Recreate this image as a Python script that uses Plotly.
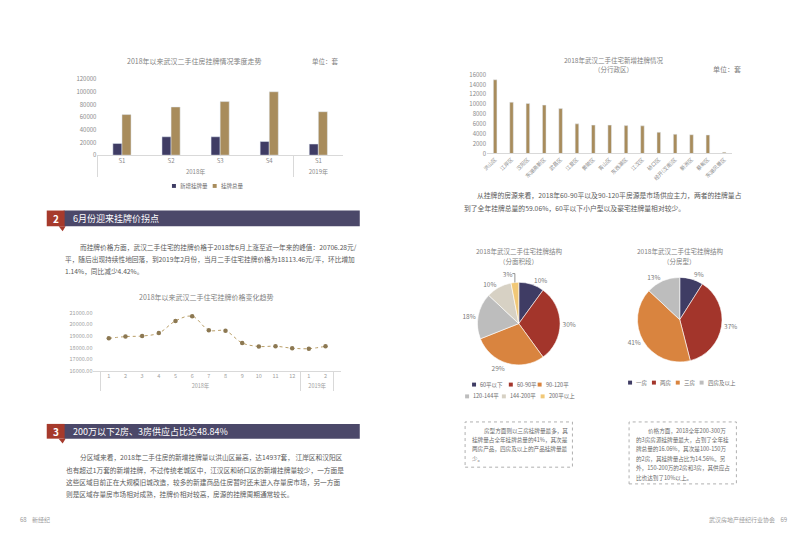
import plotly.graph_objects as go

W, H = 800, 541
def fx(x): return x / W
def fy(y): return 1 - y / H

FONT = "Noto Sans CJK SC"
NAVY = "#3f3c64"
GOLD = "#a88c5c"
TXT = "#5a5a5a"
AX = "#8a8a8a"

# ---------------- data ----------------
quarter_year = ["2018年", "2018年", "2018年", "2018年", "2019年"]
quarter_label = ["S1", "S2", "S3", "S4", "S1"]
new_listings = [18500, 29000, 29000, 21500, 17500]
total_listings = [64000, 76000, 84500, 100000, 68500]

price_year = ["2018年"] * 12 + ["2019年"] * 2
price_month = ["1", "2", "3", "4", "5", "6", "7", "8", "9", "10", "11", "12", "1", "2"]
price_values = [18800, 18950, 19000, 19250, 20300, 20706.28, 19500, 19450,
                18400, 18100, 18120, 17950, 17909, 18113.46]

districts = ["洪山区", "江岸区", "汉阳区", "东湖高新区", "武昌区", "江夏区", "黄陂区",
             "青山区", "东西湖区", "江汉区", "硚口区", "经开(汉南)区", "新洲区", "蔡甸区", "东湖风景区"]
district_new = [14937, 10400, 10150, 9800, 9100, 6000, 5750, 5750, 5650, 5600,
                4300, 3900, 3800, 3750, 250]

area_labels = ["60平以下", "60-90平", "90-120平", "120-144平", "144-200平", "200平以上"]
area_share = [10, 30, 29, 18, 10, 3]
area_colors = ["#3f3c64", "#a3352b", "#d9843f", "#bdbdbd", "#d7d1c4", "#f1c877"]

room_labels = ["一房", "两房", "三房", "四房及以上"]
room_share = [9, 37, 41, 13]
room_colors = ["#3f3c64", "#a3352b", "#d9843f", "#bdbdbd"]

fig = go.Figure()

# ---------------- bar chart 1 ----------------
fig.add_trace(go.Bar(x=[quarter_year, quarter_label], y=new_listings, name="新增挂牌量",
                     marker_color=NAVY, xaxis="x", yaxis="y", showlegend=False))
fig.add_trace(go.Bar(x=[quarter_year, quarter_label], y=total_listings, name="挂牌总量",
                     marker_color=GOLD, xaxis="x", yaxis="y", showlegend=False))

# ---------------- line chart ----------------
fig.add_trace(go.Scatter(x=[price_year, price_month], y=price_values, mode="lines+markers",
                         line=dict(color="#b89d66", width=1, dash="dot", shape="spline"),
                         marker=dict(color="#8c7852", size=4.5),
                         xaxis="x2", yaxis="y2", showlegend=False))

# ---------------- bar chart 2 ----------------
fig.add_trace(go.Bar(x=districts, y=district_new, marker_color=GOLD, width=0.22,
                     xaxis="x3", yaxis="y3", showlegend=False))

# ---------------- pies ----------------
fig.add_trace(go.Pie(labels=area_labels, values=area_share, sort=False, direction="clockwise",
                     marker=dict(colors=area_colors, line=dict(color="white", width=0.6)),
                     texttemplate="%{value}%", textposition="outside",
                     textfont=dict(size=6.5, color="#7a7a7a", family=FONT),
                     domain=dict(x=[fx(475), fx(559)], y=[fy(366), fy(282)]),
                     showlegend=False, hoverinfo="label+percent"))
fig.add_trace(go.Pie(labels=room_labels, values=room_share, sort=False, direction="clockwise",
                     marker=dict(colors=room_colors, line=dict(color="white", width=0.6)),
                     texttemplate="%{value}%", textposition="outside",
                     textfont=dict(size=6.5, color="#7a7a7a", family=FONT),
                     domain=dict(x=[fx(636), fx(722)], y=[fy(363), fy(277)]),
                     showlegend=False, hoverinfo="label+percent"))

tickfont = dict(size=6, color=AX, family=FONT)
shapes = []
ann = []

def text(x, y, s, size=7, color=TXT, anchor="left", bold=False):
    ann.append(dict(x=fx(x), y=fy(y), xref="paper", yref="paper", text=("<b>%s</b>" % s) if bold else s,
                    showarrow=False, xanchor=anchor, yanchor="middle",
                    font=dict(size=size, color=color, family=FONT)))

# chart titles
text(191, 57, "2018年以来武汉二手住房挂牌情况季度走势", 7, "#7f7f7f", "center")
text(307, 57, "单位：套", 6.5, "#7f7f7f")
text(203, 297, "2018年以来武汉二手住宅挂牌价格变化趋势", 7, "#7f7f7f", "center")
text(612, 55.5, "2018年武汉二手住宅新增挂牌情况", 6.5, "#7f7f7f", "center")
text(612, 65.5, "（分行政区）", 6.5, "#7f7f7f", "center")
text(710, 65.5, "单位：套", 7, "#7f7f7f")
text(517, 250.5, "2018年武汉二手住宅挂牌结构", 6.5, "#7f7f7f", "center")
text(517, 260.5, "（分面积段）", 6.5, "#7f7f7f", "center")
text(679, 250.5, "2018年武汉二手住宅挂牌结构", 6.5, "#7f7f7f", "center")
text(679, 260.5, "（分房型）", 6.5, "#7f7f7f", "center")

# manual legends
def legend_item(x, y, color, label):
    shapes.append(dict(type="rect", xref="paper", yref="paper",
                       x0=fx(x - 2), x1=fx(x + 2), y0=fy(y + 2), y1=fy(y - 2),
                       fillcolor=color, line=dict(width=0)))
    text(x + 4, y, label, 5.5, "#6a6a6a")

bar_leg_x = [170, 211]
for xx, c, lab in zip(bar_leg_x, [NAVY, GOLD], ["新增挂牌量", "挂牌总量"]):
    legend_item(xx, 184, c, lab)

pie1_leg = [(472, 386), (509, 386), (538, 386), (465, 398), (502, 398), (541, 398)]
for (xx, yy), c, lab in zip(pie1_leg, area_colors, area_labels):
    legend_item(xx, yy, c, lab)

pie2_leg = [(629, 384), (653, 384), (677, 384), (701, 384)]
for (xx, yy), c, lab in zip(pie2_leg, room_colors, room_labels):
    legend_item(xx, yy, c, lab)

# section headers
def header(y0, y1, num, title):
    shapes.append(dict(type="rect", xref="paper", yref="paper", x0=fx(59), x1=fx(357),
                       y0=fy(y1), y1=fy(y0), fillcolor="#4b4869", line=dict(width=0)))
    shapes.append(dict(type="rect", xref="paper", yref="paper", x0=fx(42), x1=fx(60),
                       y0=fy(y1), y1=fy(y0), fillcolor="#a63a2c", line=dict(width=0)))
    shapes.append(dict(type="path", xref="paper", yref="paper",
                       path="M %f %f L %f %f L %f %f Z" % (fx(54), fy(y1), fx(61), fy(y1), fx(58), fy(y1 + 5)),
                       fillcolor="#a63a2c", line=dict(width=0)))
    text(51, (y0 + y1) / 2, num, 10, "white", "center", bold=True)
    text(66, (y0 + y1) / 2, title, 9, "white")

header(209, 225, "2", "6月份迎来挂牌价拐点")
header(426, 441, "3", "200万以下2房、3房供应占比达48.84%")

# paragraphs
para2 = ["而挂牌价格方面，武汉二手住宅的挂牌价格于2018年6月上涨至近一年来的峰值：20706.28元/",
         "平，随后出现持续性地回落，到2019年2月份，当月二手住宅挂牌价格为18113.46元/平，环比增加",
         "1.14%，同比减少4.42%。"]
for i, (s, y) in enumerate(zip(para2, [246, 258.5, 271])):
    text(73 if i == 0 else 58, y, s, 6.7)

para3 = ["分区域来看，2018年二手住房的新增挂牌量以洪山区最高，达14937套， 江岸区和汉阳区",
         "也有超过1万套的新增挂牌，不过传统老城区中，江汉区和硚口区的新增挂牌量较少，一方面是",
         "这些区域目前正在大规模旧城改造，较多的新建商品住房暂时还未进入存量房市场，另一方面",
         "则是区域存量房市场相对成熟，挂牌价相对较高，房源的挂牌周期通常较长。"]
for i, (s, y) in enumerate(zip(para3, [460, 472.5, 485, 497.5])):
    text(73 if i == 0 else 59, y, s, 6.7)

para_r = ["从挂牌的房源来看，2018年60-90平以及90-120平房源是市场供应主力，两者的挂牌量占",
          "到了全年挂牌总量的59.06%，60平以下小户型以及豪宅挂牌量相对较少。"]
for i, (s, y) in enumerate(zip(para_r, [193, 206])):
    text(473 if i == 0 else 460, y, s, 6.8)

# dashed boxes
shapes.append(dict(type="rect", xref="paper", yref="paper", x0=fx(463), x1=fx(571), y0=fy(470), y1=fy(424),
                   line=dict(color="#b0b0b0", width=1, dash="dot")))
shapes.append(dict(type="rect", xref="paper", yref="paper", x0=fx(628), x1=fx(736), y0=fy(487), y1=fy(424),
                   line=dict(color="#b0b0b0", width=1, dash="dot")))
box1 = ["房型方面则以三房挂牌量最多，其", "挂牌量占全年挂牌总量的41%，其次是",
        "两房产品，四房及以上的产品挂牌量最", "少。"]
for i, (s, y) in enumerate(zip(box1, [433, 442.5, 452, 461.5])):
    text(480 if i == 0 else 468, y, s, 5.6, "#6a6a6a")
box2 = ["价格方面，2018全年200-300万", "的3房房源挂牌量最大，占到了全年挂",
        "牌总量的16.06%，其次是100-150万", "的2房，其挂牌量占比为14.56%。另",
        "外，150-200万的2房和3房，其供应占", "比也达到了10%以上。"]
for i, (s, y) in enumerate(zip(box2, [433, 442.5, 452, 461.5, 471, 480.5])):
    text(645 if i == 0 else 633, y, s, 5.6, "#6a6a6a")

# footers
text(13, 523, "68    新经纪", 6, "#9a9a9a")
text(789, 523, "武汉房地产经纪行业协会    69", 6, "#9a9a9a", "right")

fig.update_layout(
    width=W, height=H, margin=dict(l=0, r=0, t=0, b=0),
    paper_bgcolor="white", plot_bgcolor="white",
    font=dict(family=FONT, color=AX),
    barmode="group", bargap=0.63, bargroupgap=0.0,
    shapes=shapes, annotations=ann,
    xaxis=dict(domain=[fx(93), fx(340)], anchor="y", type="multicategory",
               showline=True, linecolor="#d9d9d9", linewidth=1, ticks="",
               showdividers=True, dividercolor="#d9d9d9", dividerwidth=1,
               tickfont=tickfont, showgrid=False),
    yaxis=dict(domain=[fy(152.7), fy(75.3)], anchor="x", range=[0, 120000],
               tickvals=[0, 20000, 40000, 60000, 80000, 100000, 120000], tickformat="d",
               showgrid=False, zeroline=False, showline=False, tickfont=tickfont, ticks=""),
    xaxis2=dict(domain=[fx(89), fx(338)], anchor="y2", type="multicategory",
                showline=True, linecolor="#d9d9d9", linewidth=1, ticks="",
                showdividers=True, dividercolor="#d9d9d9", dividerwidth=1,
                tickfont=dict(size=5.5, color="#a0a0a0", family=FONT), showgrid=False),
    yaxis2=dict(domain=[fy(372), fy(313)], anchor="x2", range=[16000, 21000], dtick=1000,
                tickformat=".2f", showgrid=False, zeroline=False, showline=False,
                tickfont=dict(size=5.5, color="#a0a0a0", family=FONT), ticks=""),
    xaxis3=dict(domain=[fx(485), fx(732)], anchor="y3", tickangle=-45,
                showline=True, linecolor="#d9d9d9", linewidth=1, ticks="",
                tickfont=dict(size=5.2, color=AX, family=FONT), showgrid=False),
    yaxis3=dict(domain=[fy(151), fy(70.7)], anchor="x3", range=[0, 16000], dtick=2000,
                tickformat="d",
                showgrid=False, zeroline=False, showline=False, tickfont=tickfont, ticks=""),
)

fig.write_html("out.html")
